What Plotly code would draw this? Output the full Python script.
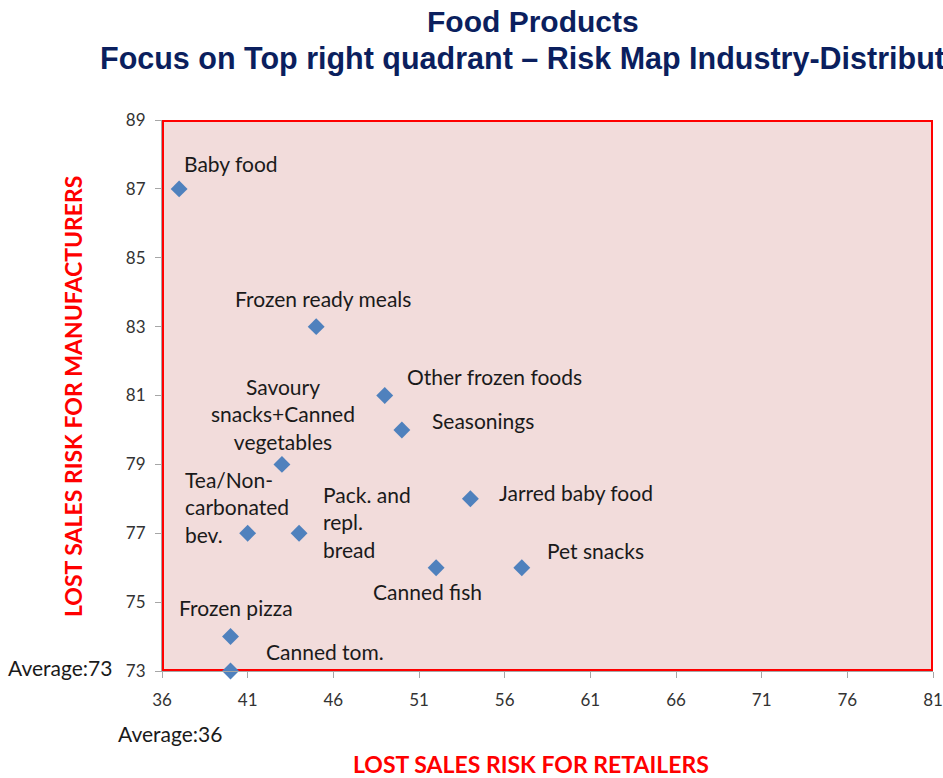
import plotly.graph_objects as go

# ---- data ----
products = ["Baby food", "Frozen ready meals", "Other frozen foods", "Seasonings",
            "Savoury<br>snacks+Canned<br>vegetables", "Jarred baby food",
            "Tea/Non-<br>carbonated<br>bev.", "Pack. and<br>repl.<br>bread",
            "Canned fish", "Pet snacks", "Frozen pizza", "Canned tom."]
retailer_risk = [37, 45, 49, 50, 43, 54, 41, 44, 52, 57, 40, 40]
manufacturer_risk = [87, 83, 81, 80, 79, 78, 77, 77, 76, 76, 74, 73]
x_ticks = [36, 41, 46, 51, 56, 61, 66, 71, 76, 81]
y_ticks = [73, 75, 77, 79, 81, 83, 85, 87, 89]
avg_retail = 36
avg_manuf = 73

# ---- label styles (anchor, xshift px, yshift px, align) ----
label_style = [
    ("left", 3, 25, "left"),
    ("center", 7, 28, "center"),
    ("left", 20, 19, "left"),
    ("left", 28, 9, "left"),
    ("center", 1, 50, "center"),
    ("left", 27, 6, "left"),
    ("left", -65, 26, "left"),
    ("left", 22, 11, "left"),
    ("center", -9, -24, "center"),
    ("left", 23, 17, "left"),
    ("center", 5, 29, "center"),
    ("left", 33, 20, "left"),
]

# full-window figure (body margin removed in the page script below)
W, H = 943, 778
L, R, T, B = 162, 10, 120, 107
PW, PH = W - L - R, H - T - B
RX0, RY1 = L, H - B

def px(x):
    return (x - RX0) / PW

def py(y):
    return (RY1 - y) / PH

LABEL_FONT = dict(family="Lato, Calibri, sans-serif", size=21, color="#1a1a1a")

fig = go.Figure()
fig.add_trace(go.Scatter(
    x=retailer_risk, y=manufacturer_risk, mode="markers",
    marker=dict(symbol="diamond", size=13, color="#4f81bd"),
    cliponaxis=False, hoverinfo="skip", showlegend=False,
))

annotations = []
for name, xv, yv, (anc, xs, ys, al) in zip(products, retailer_risk, manufacturer_risk, label_style):
    annotations.append(dict(x=xv, y=yv, xref="x", yref="y", text=name, showarrow=False,
                            xanchor=anc, yanchor="middle", xshift=xs, yshift=ys, align=al,
                            font=LABEL_FONT))

NAVY = "#0b1f5e"
annotations += [
    dict(text="<b>Food Products</b>", x=px(533), y=py(22), xref="paper", yref="paper",
         xanchor="center", yanchor="middle", showarrow=False,
         font=dict(family="Liberation Sans, Arial", size=30, color=NAVY)),
    dict(text="<b>Focus on Top right quadrant \u2013 Risk Map Industry-Distribution</b>",
         x=px(98), y=py(59), xref="paper", yref="paper",
         xanchor="left", yanchor="middle", showarrow=False,
         font=dict(family="Liberation Sans, Arial", size=30.5, color=NAVY)),
    dict(text="<b>LOST SALES RISK FOR RETAILERS</b>", x=px(531), y=py(764),
         xref="paper", yref="paper", xanchor="center", yanchor="middle", showarrow=False,
         font=dict(family="Lato, Calibri, sans-serif", size=23, color="#ff0000")),
    dict(text="<b>LOST SALES RISK FOR MANUFACTURERS</b>", x=px(73), y=py(397),
         xref="paper", yref="paper", xanchor="center", yanchor="middle", showarrow=False,
         textangle=-90,
         font=dict(family="Lato, Calibri, sans-serif", size=23, color="#ff0000")),
    dict(text=f"Average:{avg_manuf}", x=px(114), y=avg_manuf, xref="paper", yref="y",
         xanchor="right", yanchor="middle", yshift=4, showarrow=False, font=LABEL_FONT),
    dict(text=f"Average:{avg_retail}", x=avg_retail, y=py(733), xref="x", yref="paper",
         xanchor="center", yanchor="middle", xshift=8, showarrow=False, font=LABEL_FONT),
    dict(text="58", x=px(-2), y=py(787), xref="paper", yref="paper",
         xanchor="left", yanchor="middle", showarrow=False, font=LABEL_FONT),
]

fig.add_shape(type="rect", xref="paper", yref="paper", x0=px(163), x1=px(932), y0=py(670), y1=py(121),
              line=dict(color="#ff0000", width=2), fillcolor="rgba(0,0,0,0)", layer="below")

axis_common = dict(showgrid=False, zeroline=False, showline=True, linecolor="#a6a6a6", linewidth=1,
                   ticks="outside", ticklen=6, tickcolor="#a6a6a6", automargin=False,
                   tickfont=dict(family="Lato, Calibri, sans-serif", size=17, color="#333333"))

fig.update_layout(
    width=W, height=H, autosize=False,
    margin=dict(l=L, r=R, t=T, b=B),
    paper_bgcolor="white", plot_bgcolor="#f2dcdb",
    xaxis=dict(range=[36, 81], tickvals=x_ticks, ticklabelstandoff=8, **axis_common),
    yaxis=dict(range=[73, 89], tickvals=y_ticks, ticklabelstandoff=6, **axis_common),
    annotations=annotations,
)

fig.write_html("out.html",
               config={"responsive": False, "displayModeBar": False},
               post_script="document.body.style.margin='0px';document.body.style.overflow='hidden';")
